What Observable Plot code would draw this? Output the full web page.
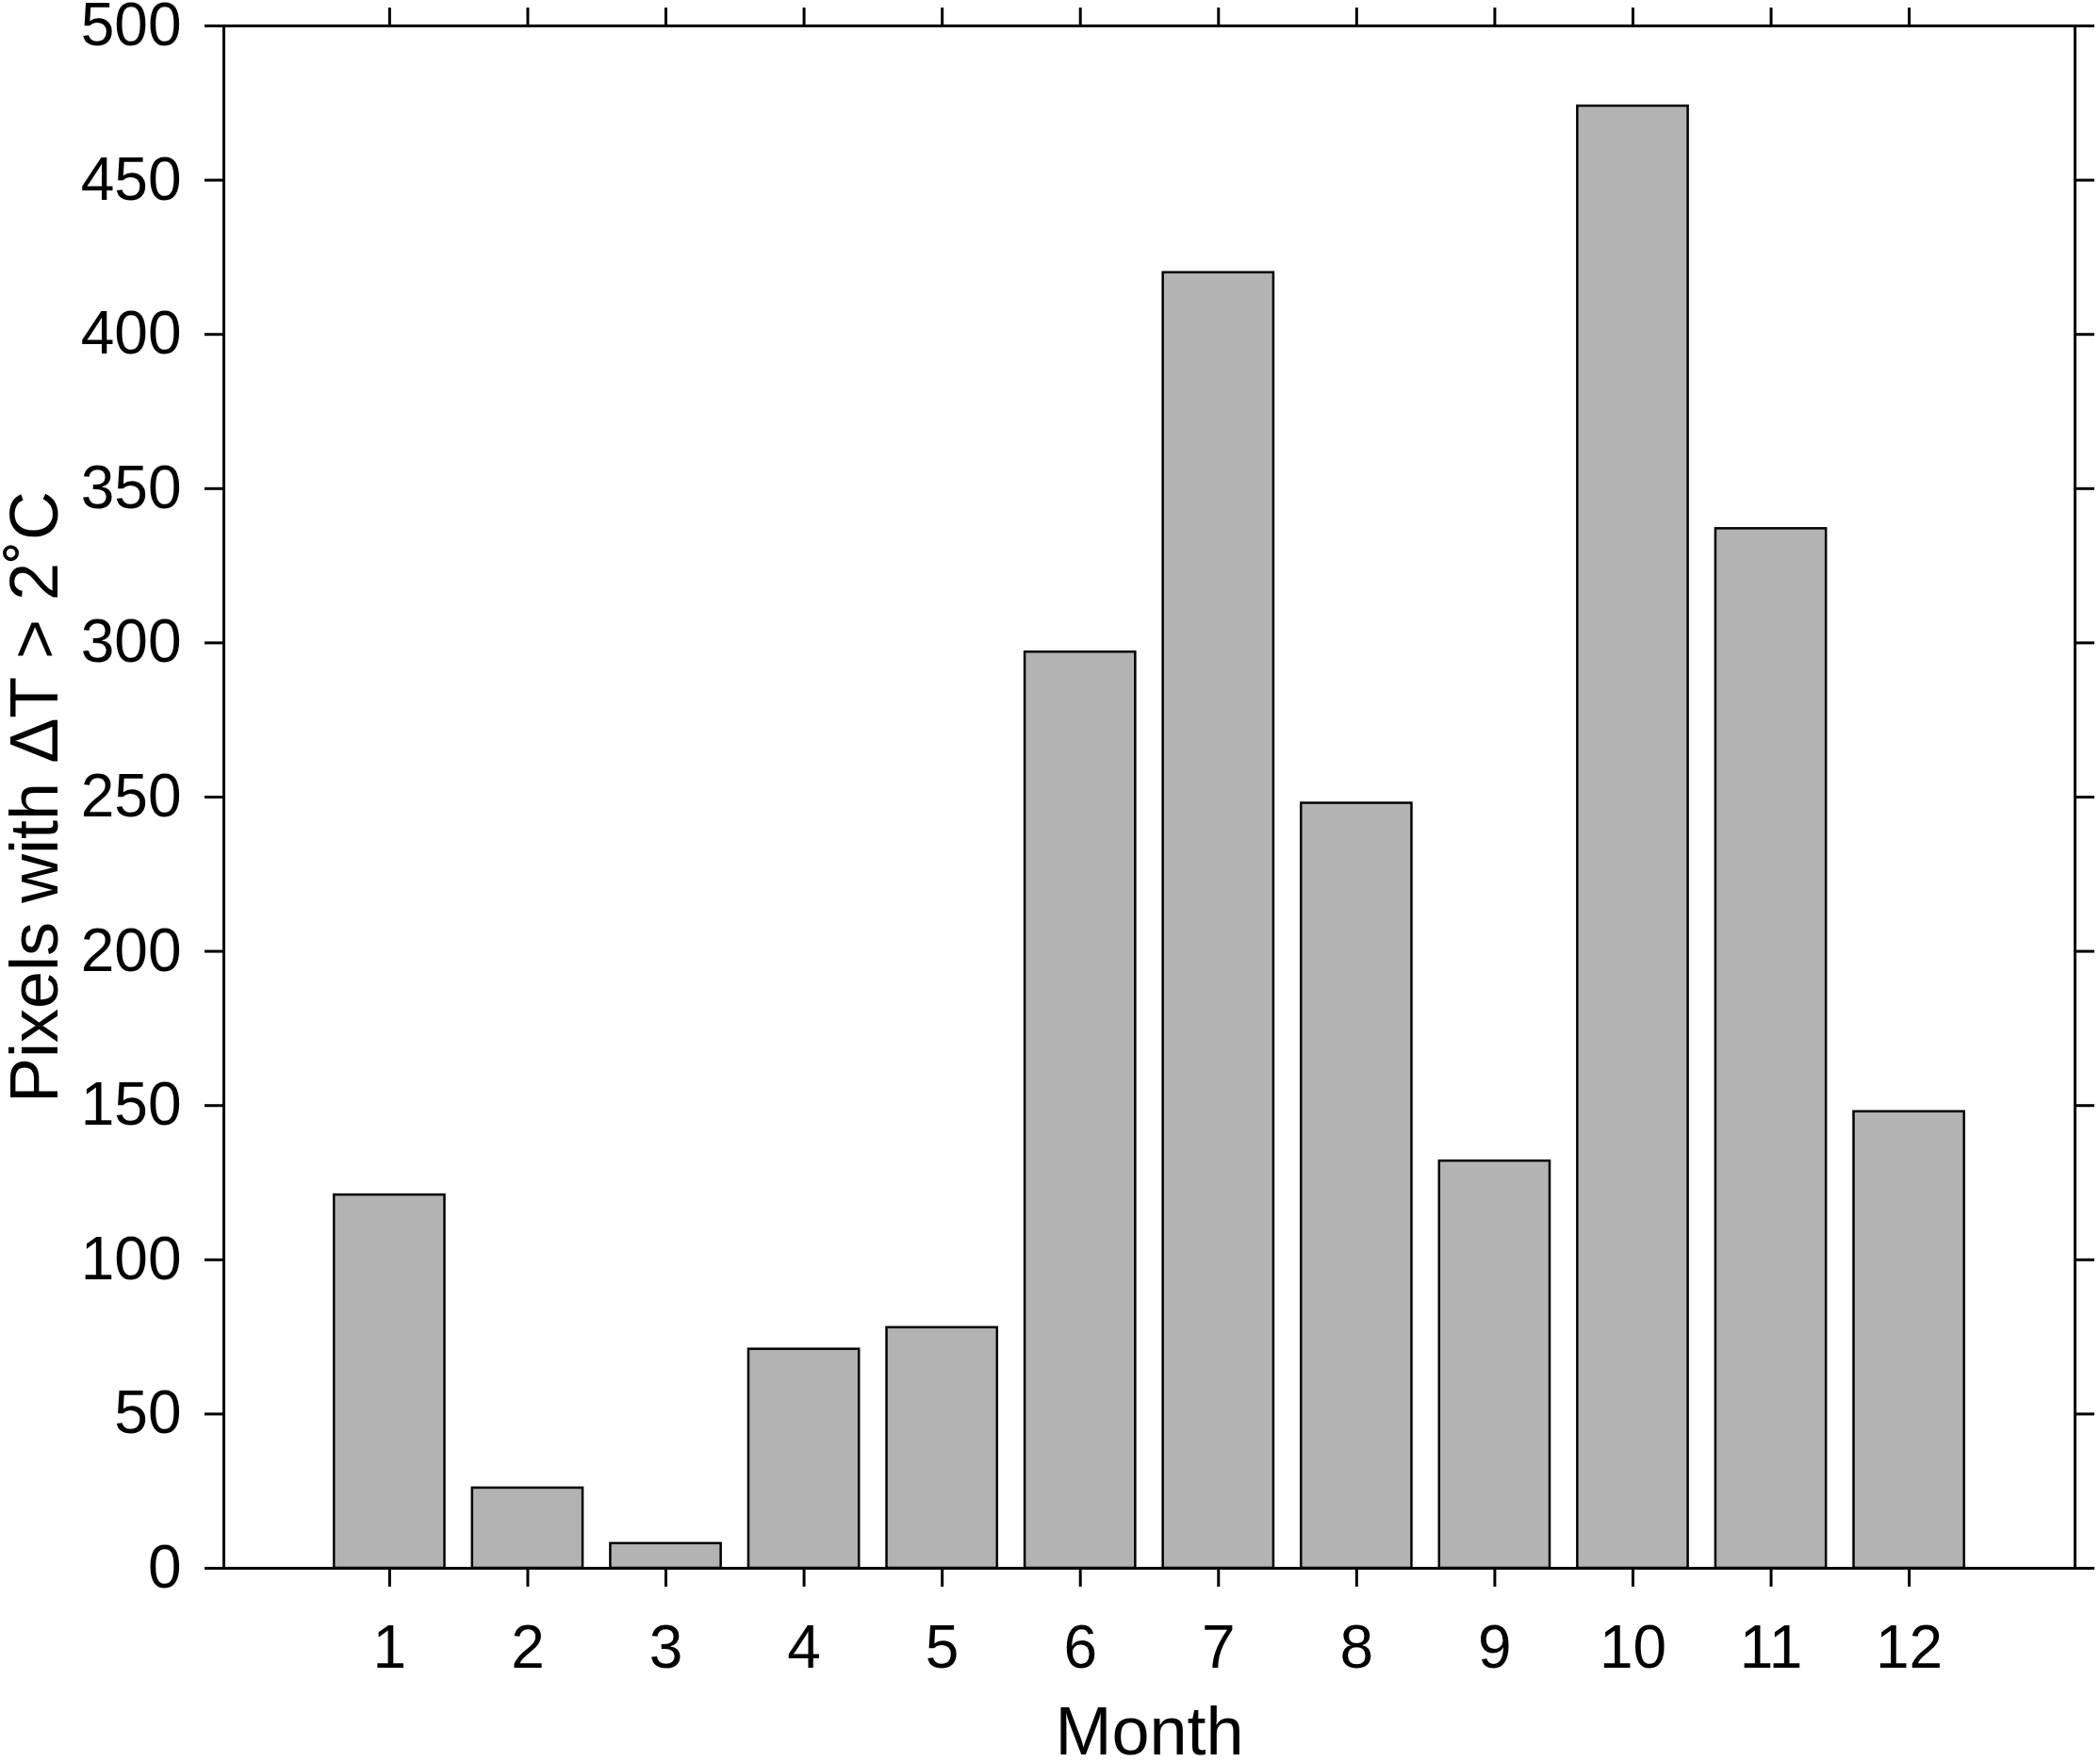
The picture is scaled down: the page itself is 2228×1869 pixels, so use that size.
<!DOCTYPE html>
<html>
<head>
<meta charset="utf-8">
<script src="https://cdn.jsdelivr.net/npm/d3@7"></script>
<script src="https://cdn.jsdelivr.net/npm/@observablehq/plot@0.6"></script>
<style>
  html, body { margin: 0; padding: 0; background: #ffffff; }
  #chart svg { display: block; }
</style>
</head>
<body>
<div id="chart"></div>
<script>
const months = [1, 2, 3, 4, 5, 6, 7, 8, 9, 10, 11, 12];
const pixels = [121, 26, 8, 71, 78, 297, 420, 248, 132, 474, 337, 148];
const yTicks = [0, 50, 100, 150, 200, 250, 300, 350, 400, 450, 500];
const xLabel = "Month";
const yLabel = "Pixels with \u0394T > 2\u02DAC";

const data = months.map((m, i) => ({month: m, value: pixels[i]}));
const font = "Liberation Sans, Arial, Helvetica, sans-serif";

const chart = Plot.plot({
  width: 2228,
  height: 1869,
  marginLeft: 237,
  marginRight: 27,
  marginTop: 27,
  marginBottom: 206,
  style: {fontFamily: font, background: "#ffffff", color: "#000000"},
  x: {type: "linear", domain: [-0.2, 13.2], axis: null, label: null},
  y: {domain: [0, 500], axis: null, label: null},
  marks: [
    Plot.rectY(data, {
      x1: d => d.month - 0.4,
      x2: d => d.month + 0.4,
      y: "value",
      fill: "#b3b3b3",
      stroke: "#000000",
      strokeWidth: 2.5
    }),
    Plot.axisX({anchor: "bottom", label: null, ticks: months, tickFormat: d => String(d), tickSize: 20, tickPadding: 40, fontSize: 64, strokeWidth: 3}),
    Plot.axisX({anchor: "top", label: null, ticks: months, tickFormat: () => "", tickSize: 20, strokeWidth: 3}),
    Plot.axisY({anchor: "left", label: null, ticks: yTicks, tickFormat: d => String(d), tickSize: 20, tickPadding: 25, fontSize: 64, strokeWidth: 3}),
    Plot.axisY({anchor: "right", label: null, ticks: yTicks, tickFormat: () => "", tickSize: 20, strokeWidth: 3}),
    Plot.frame({stroke: "#000000", strokeWidth: 3}),
    Plot.text([xLabel], {frameAnchor: "bottom", dy: 174, lineAnchor: "middle", textAnchor: "middle", fontSize: 72, fill: "#000000"}),
    Plot.text([yLabel], {frameAnchor: "left", dx: -200, rotate: -90, lineAnchor: "middle", textAnchor: "middle", fontSize: 72, fill: "#000000"})
  ]
});

document.getElementById("chart").appendChild(chart);
</script>
</body>
</html>
